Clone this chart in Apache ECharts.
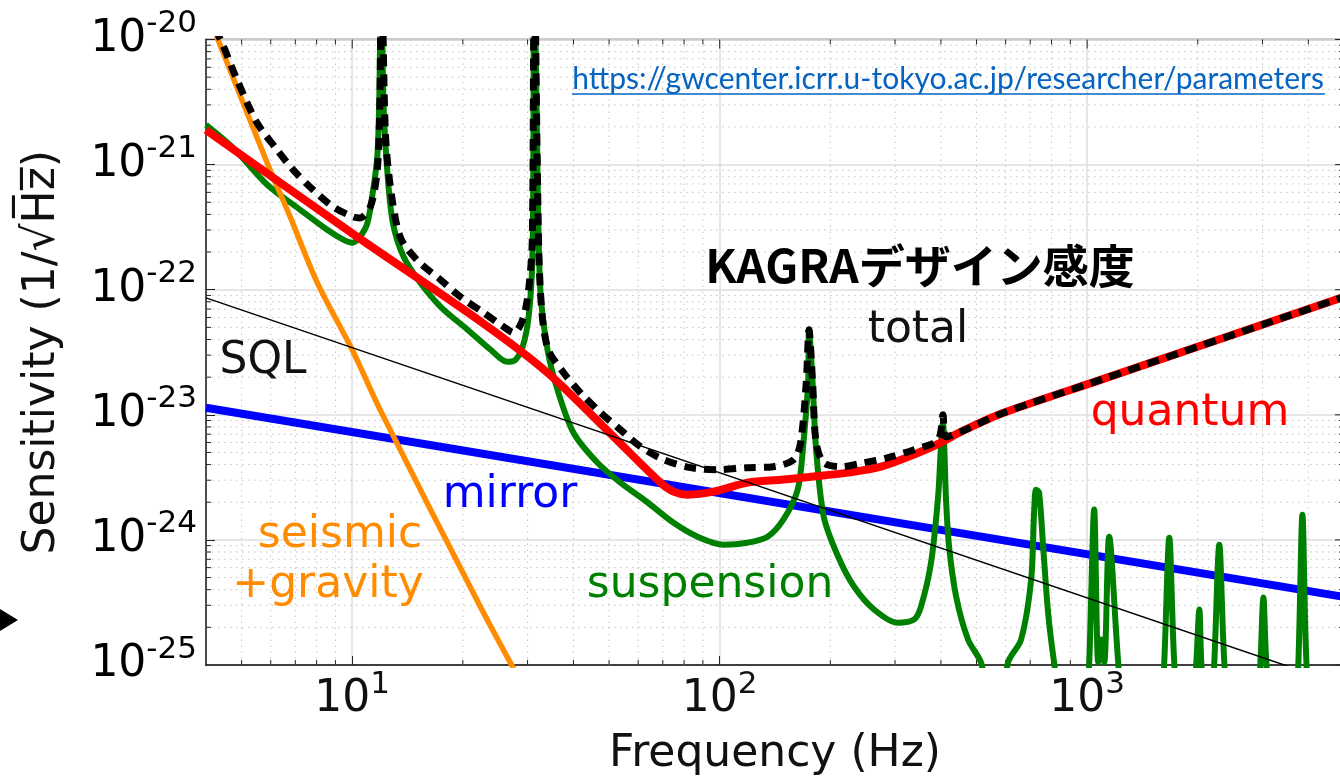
<!DOCTYPE html>
<html>
<head>
<meta charset="utf-8">
<script src="https://cdn.jsdelivr.net/npm/echarts@6/dist/echarts.min.js"></script>
<style>
html,body{margin:0;padding:0;background:#fff;}
#c{width:1340px;height:779px;}
</style>
</head>
<body>
<div id="c"></div>
<script>
// ---- data (frequency Hz, strain sensitivity 1/sqrt(Hz)) ----
const xMajorTicks = [10, 100, 1000];
const yMajorTicks = [1e-25, 1e-24, 1e-23, 1e-22, 1e-21, 1e-20];
const yTickLabels = ['-25', '-24', '-23', '-22', '-21', '-20'];

const seismicGravity = [[4.0,1.7e-20],[4.31,1.0e-20],[5.87,1.03e-21],[6.78,3.82e-22],[8.03,1.14e-22],[10.0,3.31e-23],[11.9,1.10e-23],[22.3,2.93e-25],[26.9,1.05e-25],[30,5.8e-26]];

const mirror = [[4,1.14e-23],[5000,3.5e-25]];

const sql = [[4,8.6e-23],[5000,6.88e-26]];

const quantum = [[4.0,1.89e-21],[10.0,2.82e-22],[22.3,5.6e-23],[34.0,2.17e-23],[51.4,6.69e-24],[69.0,2.87e-24],[74.9,2.43e-24],[81.8,2.30e-24],[96.3,2.43e-24],[119,2.87e-24],[147,3.03e-24],[180,3.21e-24],[223,3.45e-24],[275,3.85e-24],[338,4.81e-24],[400,6.00e-24],[454,7.33e-24],[583,1.02e-23],[1092,1.91e-23],[5000,8.75e-23]];

const suspension = [[4.0,2.08e-21],[4.74,1.36e-21],[5.87,6.9e-22],[7.22,4.35e-22],[8.55,3.01e-22],[9.45,2.51e-22],[10.0,2.37e-22],[10.5,2.65e-22],[11.0,3.42e-22],[11.4,6.28e-22],[11.7,1.15e-21],[11.85,3.47e-21],[12.0,5e-20],[12.15,3.47e-21],[12.45,9.08e-22],[12.9,3.42e-22],[13.8,1.83e-22],[15.3,1.14e-22],[17.4,7.30e-23],[20.6,4.79e-23],[23.8,3.31e-23],[26.4,2.65e-23],[27.8,2.75e-23],[29.1,3.50e-23],[30.2,6.08e-23],[30.9,1.64e-22],[31.1,1.03e-21],[31.3,5e-20],[31.9,1.03e-21],[32.5,1.0e-22],[34.0,3.31e-23],[36.2,1.58e-23],[40.0,7.19e-24],[46.5,4.14e-24],[53.7,2.87e-24],[63.7,1.99e-24],[74.9,1.37e-24],[87.1,1.06e-24],[102.5,9.16e-25],[119,9.50e-25],[135,1.06e-24],[149,1.45e-24],[163,2.52e-24],[169,5.98e-24],[174,1.80e-23],[175,4.79e-23],[179,1.80e-23],[183,5.26e-24],[192,1.53e-24],[210,7.36e-25],[232,4.24e-25],[263,2.78e-25],[305,2.18e-25],[338,2.31e-25],[353,2.93e-25],[376,6.59e-25],[393,2.22e-24],[400,5.56e-24],[405,8.65e-24],[413,2.10e-24],[421,8.83e-25],[440,3.52e-25],[474,1.60e-25],[514,1.05e-25],[547,5e-26],[590,5e-26],[609,1.05e-25],[661,1.60e-25],[704,4.82e-25],[717,1.65e-24],[726,2.52e-24],[740,2.39e-24],[759,8.83e-25],[783,2.62e-25],[813,1.05e-25],[849,5e-26],[993,5e-26],[1013,1.05e-25],[1045,1.75e-24],[1072,1.05e-25],[1092,1.6e-25],[1113,1.05e-25],[1148,1.06e-24],[1215,1.05e-25],[1253,5e-26],[1591,5e-26],[1621,1.05e-25],[1673,1.04e-24],[1726,1.05e-25],[1781,5e-26],[1945,5e-26],[1982,1.05e-25],[2020,2.78e-25],[2045,1.05e-25],[2097,5e-26],[2177,5e-26],[2218,1.05e-25],[2289,9.16e-25],[2362,1.05e-25],[2438,5e-26],[2904,5e-26],[2961,1.05e-25],[3017,3.46e-25],[3074,1.05e-25],[3172,5e-26],[3687,5e-26],[3757,1.05e-25],[3853,1.59e-24],[3951,1.05e-25],[4077,5e-26],[5000,5e-26]];

const total = [[4.0,1.7e-20],[4.42,9.4e-21],[4.86,4.75e-21],[5.51,2.15e-21],[6.25,1.31e-21],[6.91,9.08e-22],[7.83,6.28e-22],[8.88,4.59e-22],[10.06,3.82e-22],[10.5,3.75e-22],[11.2,4.59e-22],[11.7,9.08e-22],[11.9,3.47e-21],[12.0,5e-20],[12.3,1.89e-21],[12.7,6.64e-22],[13.5,2.65e-22],[15.0,1.73e-22],[17.4,1.20e-22],[19.7,8.77e-23],[22.8,6.53e-23],[25.8,5.06e-23],[27.5,4.53e-23],[29.1,5.75e-23],[30.2,9.97e-23],[30.9,2.51e-22],[31.3,5e-20],[31.9,9.08e-22],[32.5,1.0e-22],[34.0,3.43e-23],[37.6,2.17e-23],[41.8,1.50e-23],[47.4,1.04e-23],[53.7,7.60e-24],[60.9,5.56e-24],[70.4,4.38e-24],[83.4,3.78e-24],[98.8,3.64e-24],[119,3.78e-24],[140,3.85e-24],[159,4.38e-24],[166,5.98e-24],[172,1.80e-23],[175,4.79e-23],[179,1.80e-23],[183,5.98e-24],[192,4.14e-24],[214,3.85e-24],[247,4.14e-24],[287,4.54e-24],[338,5.26e-24],[393,6.33e-24],[405,1.00e-23],[413,6.68e-24],[454,7.33e-24],[583,1.02e-23],[1092,1.91e-23],[5000,8.75e-23]];

// ---- axis helpers ----
const X_MIN = 4, X_MAX = 5000, Y_MIN = 1e-25, Y_MAX = 1e-20;
const minorMult = [2,3,4,5,6,7,8,9];
const xGridData = [];
[1, 10, 100, 1000].forEach(d => minorMult.forEach(m => { const v = m*d; if (v > X_MIN && v < X_MAX) xGridData.push([v, 1e-22, 0]); }));
xMajorTicks.forEach(v => xGridData.push([v, 1e-22, 1]));
const yGridData = [];
yMajorTicks.slice(0, -1).forEach(d => minorMult.forEach(m => yGridData.push([10, m*d, 0])));
yMajorTicks.forEach(v => yGridData.push([10, v, 1]));
const yLabelData = yMajorTicks.map((v, i) => [X_MIN, v, i]);

const FONT = '"DejaVu Sans", Verdana, sans-serif';
const TXT = '#111';

function powLabel(v) {
  const e = Math.log10(v);
  const r = Math.round(e);
  if (!isFinite(e) || Math.abs(e - r) > 1e-6) return '';
  return '{b|10}{s|' + (r < 0 ? '-' + (-r) : r) + '}';
}
const labelRich = {
  b: {fontSize: 44, fontFamily: FONT, color: TXT, lineHeight: 62},
  s: {fontSize: 31, fontFamily: FONT, color: TXT, lineHeight: 31, verticalAlign: 'top'}
};

function renderXGrid(params, api) {
  const v = api.value(0), major = api.value(2);
  const b = api.coord([v, Y_MIN]), t = api.coord([v, Y_MAX]);
  const ch = [];
  const tickStyle = {stroke: '#222', lineWidth: 1};
  if (!major) {
    ch.push({type: 'line', shape: {x1: b[0], y1: b[1], x2: t[0], y2: t[1]}, style: {stroke: '#c4c4c4', lineWidth: 1, lineDash: [1.5, 4.5]}});
    ch.push({type: 'line', shape: {x1: b[0], y1: b[1], x2: b[0], y2: b[1] - 5}, style: tickStyle});
  }
  const len = major ? 9 : 5;
  ch.push({type: 'line', shape: {x1: t[0], y1: t[1], x2: t[0], y2: t[1] + len}, style: tickStyle});
  return {type: 'group', children: ch};
}
function renderYGrid(params, api) {
  const v = api.value(1), major = api.value(2);
  const l = api.coord([X_MIN, v]), r = api.coord([X_MAX, v]);
  const ch = [];
  const tickStyle = {stroke: '#222', lineWidth: 1};
  if (!major) {
    ch.push({type: 'line', shape: {x1: l[0], y1: l[1], x2: r[0], y2: r[1]}, style: {stroke: '#c4c4c4', lineWidth: 1, lineDash: [1.5, 4.5]}});
    ch.push({type: 'line', shape: {x1: l[0], y1: l[1], x2: l[0] + 5, y2: l[1]}, style: tickStyle});
  }
  const len = major ? 9 : 5;
  ch.push({type: 'line', shape: {x1: r[0], y1: r[1], x2: r[0] - len, y2: r[1]}, style: tickStyle});
  return {type: 'group', children: ch};
}
function renderYLabel(params, api) {
  const p = api.coord([api.value(0), api.value(1)]);
  const idx = api.value(2);
  return {
    type: 'text', x: p[0] - 9, y: p[1],
    style: {text: '{b|10}{s|' + yTickLabels[idx] + '}', rich: labelRich, align: 'right', verticalAlign: 'middle'}
  };
}

function lineSeries(name, data, color, width, z, smooth, dash) {
  return {
    name, type: 'line', data, showSymbol: false, symbol: 'none',
    smooth: smooth,
    clip: true, animation: false, silent: true, z,
    lineStyle: {color, width, type: dash || 'solid', cap: 'butt', join: 'round'}
  };
}

const chart = echarts.init(document.getElementById('c'), null, {renderer: 'canvas', width: 1340, height: 779});

const option = {
  backgroundColor: '#fff',
  animation: false,
  grid: {left: 206, top: 39.5, width: 1138, height: 625.5, show: true, borderColor: '#9a9a9a', borderWidth: 2, containLabel: false, outerBoundsMode: 'none'},
  xAxis: {
    type: 'log', logBase: 10, min: X_MIN, max: X_MAX,
    name: 'Frequency (Hz)', nameLocation: 'middle', nameGap: 68, nameMoveOverlap: false,
    nameTextStyle: {fontSize: 44, fontFamily: FONT, color: TXT},
    axisLine: {show: true, lineStyle: {color: '#222', width: 1.5}},
    axisTick: {show: true, inside: true, length: 9, lineStyle: {color: '#222', width: 1}},
    axisLabel: {margin: 4, formatter: powLabel, rich: labelRich, showMinLabel: false, showMaxLabel: false, hideOverlap: false},
    splitLine: {show: true, lineStyle: {color: '#dedede', width: 1.5}},
    minorTick: {show: false}, minorSplitLine: {show: false}
  },
  yAxis: {
    type: 'log', logBase: 10, min: Y_MIN, max: Y_MAX,
    name: 'Sensitivity (1/\u221AH\u0305z\u0305)', nameLocation: 'middle', nameGap: 141, nameMoveOverlap: false,
    nameTextStyle: {fontSize: 44, fontFamily: FONT, color: TXT},
    axisLine: {show: true, lineStyle: {color: '#222', width: 1.5}},
    axisTick: {show: true, inside: true, length: 9, lineStyle: {color: '#222', width: 1}},
    axisLabel: {show: false},
    splitLine: {show: true, lineStyle: {color: '#dedede', width: 1.5}},
    minorTick: {show: false}, minorSplitLine: {show: false}
  },
  series: [
    {type: 'custom', name: 'xgrid', data: xGridData, renderItem: renderXGrid, z: 1, silent: true, animation: false},
    {type: 'custom', name: 'ygrid', data: yGridData, renderItem: renderYGrid, z: 1, silent: true, animation: false},
    {type: 'custom', name: 'ylabels', data: yLabelData, renderItem: renderYLabel, z: 10, silent: true, animation: false, clip: false},
    lineSeries('mirror', mirror, '#0000ff', 8, 3, false),
    lineSeries('suspension', suspension, '#008000', 6, 4, 0.3),
    lineSeries('seismic+gravity', seismicGravity, '#ff8c00', 5.5, 5, 0.3),
    lineSeries('quantum', quantum, '#ff0000', 8, 6, 0.3),
    lineSeries('SQL', sql, '#000000', 1.5, 7, false),
    lineSeries('total', total, '#000000', 7, 8, 0.3, [12, 8])
  ],
  graphic: [
    {type: 'text', x: 920, y: 266, z: 100, style: {text: 'KAGRAデザイン感度', font: 'bold 46px "Noto Sans CJK JP"', fill: '#000', align: 'center', verticalAlign: 'middle'}},
    {type: 'text', x: 918, y: 331, z: 100, style: {text: 'total', font: '44px ' + FONT, fill: TXT, align: 'center', verticalAlign: 'middle'}},
    {type: 'text', x: 263, y: 362, z: 100, style: {text: 'SQL', font: '44px ' + FONT, fill: TXT, align: 'center', verticalAlign: 'middle'}},
    {type: 'text', x: 1190, y: 414, z: 100, style: {text: 'quantum', font: '44px ' + FONT, fill: '#ff0000', align: 'center', verticalAlign: 'middle'}},
    {type: 'text', x: 510, y: 496, z: 100, style: {text: 'mirror', font: '44px ' + FONT, fill: '#0000ff', align: 'center', verticalAlign: 'middle'}},
    {type: 'text', x: 340, y: 536, z: 100, style: {text: 'seismic', font: '44px ' + FONT, fill: '#ff8c00', align: 'center', verticalAlign: 'middle'}},
    {type: 'text', x: 328, y: 586, z: 100, style: {text: '+gravity', font: '44px ' + FONT, fill: '#ff8c00', align: 'center', verticalAlign: 'middle'}},
    {type: 'text', x: 710, y: 586, z: 100, style: {text: 'suspension', font: '44px ' + FONT, fill: '#008000', align: 'center', verticalAlign: 'middle'}},
    {type: 'text', x: 948, y: 79, z: 100, style: {text: 'https://gwcenter.icrr.u-tokyo.ac.jp/researcher/parameters', font: '30px Lato', fill: '#0563c1', align: 'center', verticalAlign: 'middle'}},
    {type: 'line', z: 100, shape: {x1: 572, y1: 94, x2: 1325, y2: 94}, style: {stroke: '#0563c1', lineWidth: 1.5}},
    {type: 'polygon', z: 100, shape: {points: [[0, 609], [18, 620], [0, 631]]}, style: {fill: '#000'}}
  ]
};
chart.setOption(option);
</script>
</body>
</html>
